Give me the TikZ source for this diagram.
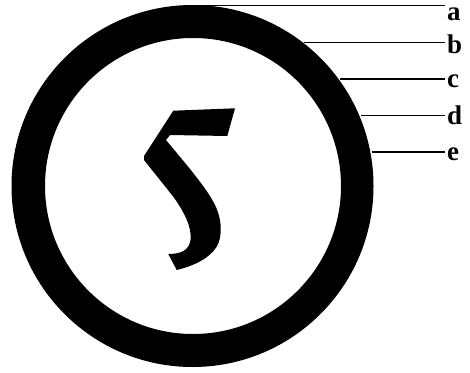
\documentclass[tikz,border=0pt]{standalone}
\usepackage{fontspec}
\setmainfont{Liberation Serif}
\begin{document}
\begin{tikzpicture}[x=1pt,y=-1pt,
  lbl/.style={font=\fontsize{27}{27}\selectfont\bfseries, anchor=base west, inner sep=0pt, text height=1.4ex, text depth=0pt},
  leader/.style={line width=1.3pt}]
\useasboundingbox (0,0) rectangle (470,372);
% ring
\fill[black, even odd rule] (192.5,186) circle[radius=181] (193,186) circle[radius=148];
% glyph
\fill[black] (173.3,110.7) -- (235,108.3) -- (227.3,136) -- (170,135) -- (166,140)
  .. controls (185,163) and (205,186) .. (214,203)
  .. controls (222,218) and (223,236) .. (216.7,246.7)
  .. controls (209,259) and (193,266) .. (176.7,270)
  -- (168.3,254)
  .. controls (180,254) and (189,251) .. (190.5,240)
  .. controls (192,228) and (185,213) .. (173.3,196.7)
  -- (144,160) -- (144,156) -- cycle;
% points on ring
\coordinate (ra) at (190,5.3);
\coordinate (rb) at (304,42.7);
\coordinate (rc) at (340,79);
\coordinate (rd) at (361,115.7);
\coordinate (re) at (371.5,152);
% labels
\node[lbl] (la) at (447,20) {a};
\node[lbl] (lb) at (447,53.3) {b};
\node[lbl] (lc) at (447,87.3) {c};
\node[lbl] (ld) at (447,124) {d};
\node[lbl] (le) at (447,160) {e};
% leaders
\draw[leader] (ra) -- ([xshift=-2pt]ra -| la.west);
\draw[leader] (rb) -- ([xshift=-2pt]rb -| lb.west);
\draw[leader] (rc) -- ([xshift=-2pt]rc -| lc.west);
\draw[leader] (rd) -- ([xshift=-2pt]rd -| ld.west);
\draw[leader] (re) -- ([xshift=-2pt]re -| le.west);
\end{tikzpicture}
\end{document}
